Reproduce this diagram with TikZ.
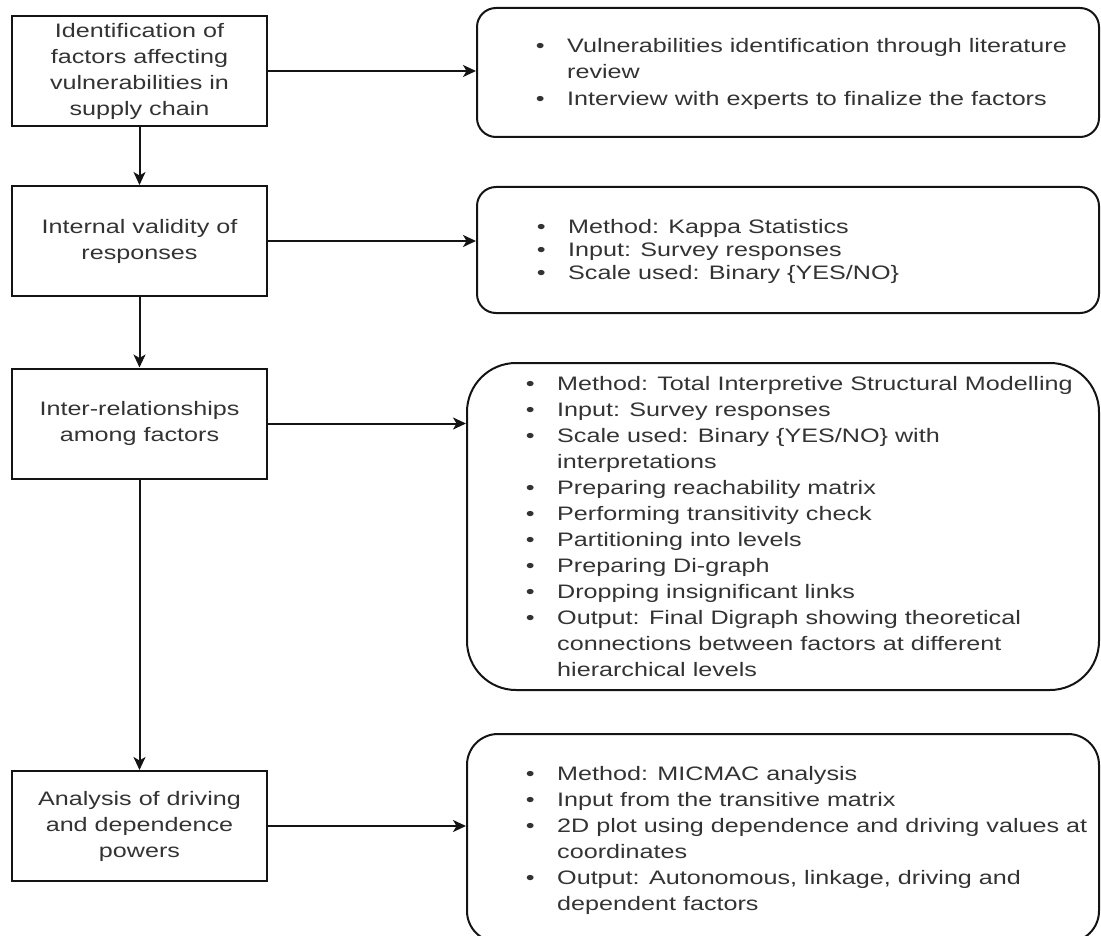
\documentclass[tikz,border=0pt]{standalone}
\usepackage{fontspec}
\setmainfont[FakeStretch=1.29]{Liberation Sans}
\usetikzlibrary{arrows.meta}
\definecolor{txt}{HTML}{333333}
\definecolor{ln}{HTML}{141414}
\newcommand\bul{\makebox[31.4pt][l]{•}}
\newcommand\cind{\hspace*{31.4pt}}
\begin{document}
\begin{tikzpicture}[x=1pt,y=-1pt,
  lbox/.style={draw=ln, line width=2pt, minimum width=255pt, minimum height=110pt,
    align=center, inner sep=0pt, text=txt, font=\fontsize{19.5}{26}\selectfont},
  rbox/.style={draw=ln, line width=2pt, inner sep=0pt},
  btext/.style={anchor=west, align=left, inner sep=0pt, text=txt},
  arr/.style={draw=ln, line width=2pt, -{Stealth[length=13pt,width=12pt,inset=3.5pt]}},
]
\clip (0,0) rectangle (1101,936);

% left process boxes
\node[lbox] (l1) at (139.5,71) {Identification of\\factors affecting\\vulnerabilities in\\supply chain};
\node[lbox] (l2) at (139.5,241) {Internal validity of\\responses};
\node[lbox] (l3) at (139.5,423.5) {Inter-relationships\\among factors};
\node[lbox] (l4) at (139.5,826) {Analysis of driving\\and dependence\\powers};

% right detail boxes
\node[rbox, rounded corners=19pt, minimum width=622pt, minimum height=129pt] (r1) at (788,72.5) {};
\node[rbox, rounded corners=19pt, minimum width=622pt, minimum height=126pt] (r2) at (788,250) {};
\node[rbox, rounded corners=49pt, minimum width=632pt, minimum height=327pt] (r3) at (783,526.5) {};
\node[rbox, rounded corners=31pt, minimum width=632pt, minimum height=208pt] (r4) at (783,838) {};

% texts of the detail boxes
\node[btext, font=\fontsize{19.5}{26.5}\selectfont] (t1) at (535.6,73.5)
  {\bul Vulnerabilities identification through literature\\
   \cind review\\
   \bul Interview with experts to finalize the factors};
\node[btext, font=\fontsize{19.5}{23}\selectfont] (t2) at (536.6,251)
  {\bul Method: Kappa Statistics\\
   \bul Input: Survey responses\\
   \bul Scale used: Binary \{YES/NO\}};
\node[btext, font=\fontsize{19.5}{26}\selectfont] (t3) at (525.6,527)
  {\bul Method: Total Interpretive Structural Modelling\\
   \bul Input: Survey responses\\
   \bul Scale used: Binary \{YES/NO\} with\\
   \cind interpretations\\
   \bul Preparing reachability matrix\\
   \bul Performing transitivity check\\
   \bul Partitioning into levels\\
   \bul Preparing Di-graph\\
   \bul Dropping insignificant links\\
   \bul Output: Final Digraph showing theoretical\\
   \cind connections between factors at different\\
   \cind hierarchical levels};
\node[btext, font=\fontsize{19.5}{26}\selectfont] (t4) at (525.6,840)
  {\bul Method: MICMAC analysis\\
   \bul Input from the transitive matrix\\
   \bul 2D plot using dependence and driving values at\\
   \cind coordinates\\
   \bul Output: Autonomous, linkage, driving and\\
   \cind dependent factors};

% connectors
\draw[arr] (l1.south) -- (l2.north);
\draw[arr] (l2.south) -- (l3.north);
\draw[arr] (l3.south) -- (l4.north);
\draw[arr] (l1.east) -- (l1.east -| r1.west);
\draw[arr] (l2.east) -- (l2.east -| r2.west);
\draw[arr] (l3.east) -- (l3.east -| r3.west);
\draw[arr] (l4.east) -- (l4.east -| r4.west);
\end{tikzpicture}
\end{document}
